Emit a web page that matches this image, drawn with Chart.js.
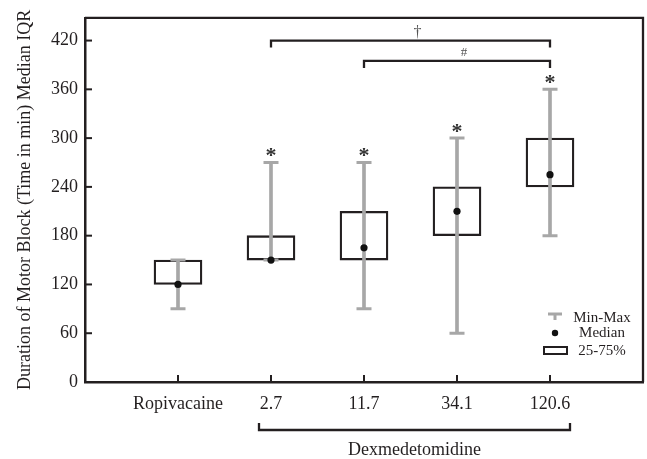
<!DOCTYPE html>
<html>
<head>
<meta charset="utf-8">
<script src="https://cdn.jsdelivr.net/npm/chart.js@4"></script>
<style>
html,body{margin:0;padding:0;background:#fff;}
#wrap{width:647px;height:459px;}
</style>
</head>
<body>
<div id="wrap"><canvas id="c" width="647" height="459"></canvas></div>
<script>
// ---- data ----
const categories = ['', 'Ropivacaine', '2.7', '11.7', '34.1', '120.6', ''];
const q1Values     = [null, 120, 150, 150, 180, 240, null];
const q3Values     = [null, 150, 180, 210, 240, 300, null];
const medianValues = [null, 120, 150, 165, 210, 255, null];
const minValues    = [null,  90, 150,  90,  60, 180, null];
const maxValues    = [null, 150, 270, 270, 300, 360, null];
const significant  = [false, false, true, true, true, true, false];
const yTicks = [0, 60, 120, 180, 240, 300, 360, 420];
const groupLabel = 'Dexmedetomidine';
const brackets = [
  {from: 2, to: 5, value: 420, label: '\u2020', size: 16},
  {from: 3, to: 5, value: 395, label: '#', size: 13}
];
const legendLabels = ['Min-Max', 'Median', '25-75%'];

const GRAY = '#a7a7a7';
const INK = '#231f20';
const SERIF = '"Liberation Serif", "Times New Roman", serif';

const boxData = q1Values.map((v, i) => v === null ? null : [v, q3Values[i]]);
const whiskerData = minValues.map((v, i) => v === null ? null : [v, maxValues[i]]);

const extras = {
  id: 'extras',
  afterDraw(chart) {
    const ctx = chart.ctx;
    const x = chart.scales.x, y = chart.scales.y;
    const a = chart.chartArea;
    ctx.save();
    // frame top & right
    ctx.strokeStyle = INK;
    ctx.lineWidth = 2.3;
    ctx.beginPath();
    ctx.moveTo(a.left, a.top); ctx.lineTo(a.right, a.top); ctx.lineTo(a.right, a.bottom);
    ctx.stroke();
    // inward ticks
    ctx.lineWidth = 2;
    yTicks.forEach(v => {
      const py = y.getPixelForValue(v);
      ctx.beginPath(); ctx.moveTo(a.left, py); ctx.lineTo(a.left + 7, py); ctx.stroke();
    });
    categories.forEach((c, i) => {
      if (!c) return;
      const px = x.getPixelForValue(i);
      ctx.beginPath(); ctx.moveTo(px, a.bottom); ctx.lineTo(px, a.bottom - 7); ctx.stroke();
    });
    // asterisks
    ctx.fillStyle = '#333';
    ctx.font = 'bold 22px ' + SERIF;
    ctx.textAlign = 'center';
    ctx.textBaseline = 'middle';
    significant.forEach((s, i) => {
      if (!s) return;
      ctx.fillText('*', x.getPixelForValue(i), y.getPixelForValue(maxValues[i]) - 6);
    });
    // brackets
    brackets.forEach(b => {
      const x1 = x.getPixelForValue(b.from), x2 = x.getPixelForValue(b.to);
      const py = y.getPixelForValue(b.value);
      ctx.strokeStyle = INK; ctx.lineWidth = 2.3;
      ctx.beginPath();
      ctx.moveTo(x1, py + 7); ctx.lineTo(x1, py); ctx.lineTo(x2, py); ctx.lineTo(x2, py + 7);
      ctx.stroke();
      ctx.fillStyle = '#555';
      ctx.font = b.size + 'px ' + SERIF;
      ctx.textBaseline = 'middle';
      ctx.fillText(b.label, (x1 + x2) / 2 + 7, py - 8);
    });
    // group bracket under axis
    const gx1 = x.getPixelForValue(2) - 12, gx2 = x.getPixelForValue(5) + 20;
    const gy = a.bottom + 48;
    ctx.strokeStyle = INK; ctx.lineWidth = 2.3;
    ctx.beginPath();
    ctx.moveTo(gx1, gy - 7); ctx.lineTo(gx1, gy); ctx.lineTo(gx2, gy); ctx.lineTo(gx2, gy - 7);
    ctx.stroke();
    ctx.fillStyle = INK;
    ctx.font = '18px ' + SERIF;
    ctx.fillText(groupLabel, (gx1 + gx2) / 2, gy + 20);
    // legend
    const tx = a.right - 41;
    const sx = a.right - 88;
    ctx.font = '15px ' + SERIF;
    ctx.fillStyle = INK;
    ctx.textAlign = 'center';
    ctx.fillText(legendLabels[0], tx, a.bottom - 64);
    ctx.fillText(legendLabels[1], tx, a.bottom - 49);
    ctx.fillText(legendLabels[2], tx, a.bottom - 31);
    ctx.strokeStyle = GRAY; ctx.lineWidth = 3;
    ctx.beginPath(); ctx.moveTo(sx - 7, a.bottom - 68); ctx.lineTo(sx + 7, a.bottom - 68); ctx.stroke();
    ctx.beginPath(); ctx.moveTo(sx, a.bottom - 68); ctx.lineTo(sx, a.bottom - 62); ctx.stroke();
    ctx.fillStyle = '#111';
    ctx.beginPath(); ctx.arc(sx, a.bottom - 49, 3.2, 0, Math.PI * 2); ctx.fill();
    ctx.strokeStyle = INK; ctx.lineWidth = 2;
    ctx.strokeRect(sx - 11, a.bottom - 35, 23, 7);
    ctx.restore();
  }
};

new Chart(document.getElementById('c'), {
  type: 'bar',
  data: {
    labels: categories,
    datasets: [
      {
        type: 'line', label: 'Median', data: medianValues, showLine: false,
        pointStyle: 'circle', pointRadius: 3.6, pointHoverRadius: 3.6,
        pointBackgroundColor: '#111', pointBorderColor: '#111', pointBorderWidth: 0, order: 1
      },
      {
        type: 'line', label: 'Max', data: maxValues, showLine: false,
        pointStyle: 'line', pointRadius: 7.5, pointHoverRadius: 7.5,
        pointBorderColor: GRAY, pointBorderWidth: 3, order: 2
      },
      {
        type: 'line', label: 'Min', data: minValues, showLine: false,
        pointStyle: 'line', pointRadius: 7.5, pointHoverRadius: 7.5,
        pointBorderColor: GRAY, pointBorderWidth: 3, order: 2
      },
      {
        label: 'Min-Max', data: whiskerData, backgroundColor: GRAY, borderWidth: 0,
        barThickness: 3, grouped: false, order: 3
      },
      {
        label: '25-75%', data: boxData, backgroundColor: '#fff', borderColor: INK,
        borderWidth: 2.3, borderSkipped: false, barThickness: 48, grouped: false, order: 4
      }
    ]
  },
  options: {
    responsive: false,
    animation: false,
    events: [],
    layout: { autoPadding: false, padding: { left: 0, right: 4, top: 16, bottom: 0 } },
    plugins: { legend: { display: false }, tooltip: { enabled: false } },
    scales: {
      x: {
        type: 'category',
        offset: false,
        grid: { display: false, drawTicks: false },
        border: { display: true, color: INK, width: 2.5 },
        ticks: { color: INK, font: { family: SERIF, size: 18, lineHeight: 2.45 }, padding: 0, autoSkip: false, maxRotation: 0 },
        afterFit(s) { s.height = 77; }
      },
      y: {
        min: 0, max: 448,
        grid: { display: false, drawTicks: false },
        border: { display: true, color: INK, width: 2.5 },
        ticks: { color: INK, font: { family: SERIF, size: 18 }, padding: 7, stepSize: 60 },
        afterBuildTicks(s) { s.ticks = yTicks.map(v => ({ value: v })); },
        afterFit(s) { s.width = 85; },
        title: {
          display: true, text: 'Duration of Motor Block (Time in min) Median IQR',
          color: INK, font: { family: SERIF, size: 18 }, padding: { top: 14, bottom: 0 }
        }
      }
    }
  },
  plugins: [extras]
});
</script>
</body>
</html>
